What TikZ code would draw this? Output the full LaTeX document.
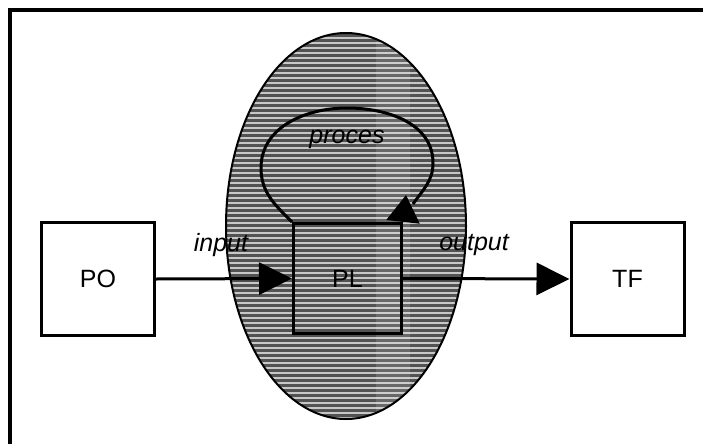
\documentclass[tikz,border=0pt]{standalone}
\usepackage{fontspec}
\setmainfont{Liberation Sans}
\usetikzlibrary{arrows.meta}
\begin{document}
\begin{tikzpicture}[x=1pt,y=-1pt,
  line width=3pt,
  box/.style={draw=black,line width=3pt,minimum width=113pt,minimum height=113pt,inner sep=0pt},
  lbl/.style={font=\fontsize{25}{30}\selectfont},
  ilbl/.style={font=\fontsize{25}{30}\selectfont\itshape},
  flow/.style={-{Triangle[length=33pt,width=32pt]}},
  looparrow/.style={-{Triangle[length=27pt,width=33pt]}}]
\useasboundingbox (0,0) rectangle (703,444);
\fill[white] (0,0) rectangle (703,444);

% outer frame (only its top and left sides lie inside the page)
\draw[line width=3.5pt] (10,444) -- (10,10) -- (703,10);

% shaded environment ellipse with halftone stripes
\fill[black!68] (346,226) ellipse [x radius=120, y radius=193];
\begin{scope}
  \clip (346,226) ellipse [x radius=120, y radius=193];
  \foreach \yy in {33,38,...,420}
    \draw[white!78!black,line width=2pt] (220,\yy) -- (470,\yy);
  \fill[white,opacity=0.13] (376,30) rectangle (410,420);
\end{scope}
\draw[line width=2pt] (346,226) ellipse [x radius=120, y radius=193];

% blocks
\node[box,fill=white] (PO) at (98,279) {};
\node[lbl] at (PO) {PO};
\node[box,fill=white] (TF) at (627.5,279) {};
\node[lbl] at (TF) {TF};
\node[draw=black,line width=3pt,minimum width=108pt,minimum height=110pt,inner sep=0pt] (PL) at (347.5,278.5) {};
\node[lbl] at (PL) {PL};

% process loop on top of PL
\coordinate (looptip) at (406,195);
\draw[line width=3pt] (PL.north west) to[out=135,in=-90] (261,168)
  to[out=90,in=180] (347,108) to[out=0,in=90] (433,163)
  to[out=-90,in=55] (413,204);
\draw[looparrow] (PL.north east) -- (looptip);
\node[ilbl] (proc) at (347,139) {proces};

% input and output flows
\draw[flow] (PO.east) -- (PL.west);
\draw[flow] (PL.east) -- (TF.west);
\node[ilbl] (inlbl) at (221,245) {input};
\node[ilbl] (outlbl) at (474,245) {output};
\end{tikzpicture}
\end{document}
